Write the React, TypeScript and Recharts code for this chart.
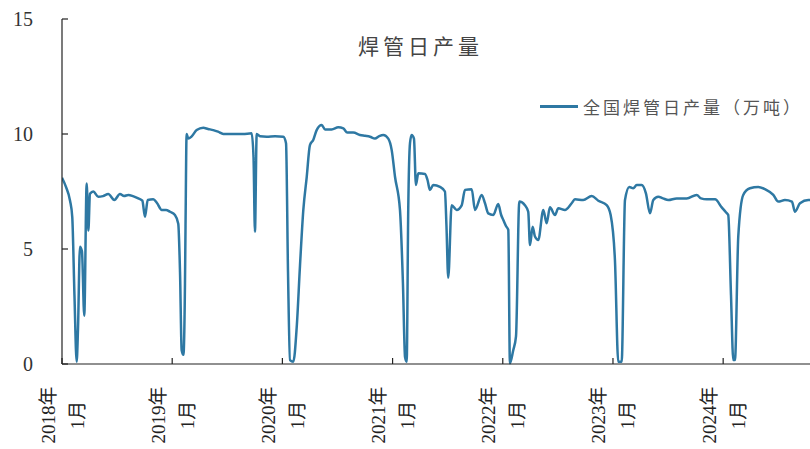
import { LineChart, Line, XAxis, YAxis } from "recharts";

// decimal years (weekly-ish samples)
const dates = [
  2018.0, 2018.036, 2018.073, 2018.093, 2018.113, 2018.133, 2018.145, 2018.163, 2018.181, 2018.202,
  2018.224, 2018.239, 2018.254, 2018.284, 2018.329, 2018.372, 2018.42, 2018.475, 2018.526, 2018.563,
  2018.602, 2018.644, 2018.692, 2018.729, 2018.753, 2018.778, 2018.828, 2018.862, 2018.905, 2018.944,
  2018.98, 2019.025, 2019.055, 2019.071, 2019.086, 2019.102, 2019.116, 2019.121, 2019.131, 2019.146,
  2019.177, 2019.222, 2019.282, 2019.325, 2019.373, 2019.416, 2019.464, 2019.554, 2019.642, 2019.721,
  2019.738, 2019.751, 2019.767, 2019.797, 2019.858, 2019.933, 2020.008, 2020.033, 2020.051, 2020.069,
  2020.099, 2020.13, 2020.16, 2020.19, 2020.221, 2020.25, 2020.28, 2020.311, 2020.357, 2020.387,
  2020.447, 2020.507, 2020.553, 2020.589, 2020.643, 2020.704, 2020.75, 2020.795, 2020.84, 2020.879,
  2020.916, 2020.961, 2020.992, 2021.022, 2021.067, 2021.094, 2021.113, 2021.128, 2021.142, 2021.158,
  2021.173, 2021.194, 2021.212, 2021.233, 2021.294, 2021.317, 2021.339, 2021.369, 2021.43, 2021.475,
  2021.489, 2021.505, 2021.536, 2021.581, 2021.627, 2021.657, 2021.718, 2021.748, 2021.809, 2021.838,
  2021.868, 2021.914, 2021.959, 2021.984, 2022.005, 2022.029, 2022.05, 2022.065, 2022.095, 2022.12,
  2022.15, 2022.201, 2022.231, 2022.247, 2022.271, 2022.292, 2022.322, 2022.368, 2022.398, 2022.428,
  2022.474, 2022.504, 2022.564, 2022.625, 2022.655, 2022.73, 2022.807, 2022.867, 2022.943, 2022.979,
  2023.018, 2023.048, 2023.079, 2023.109, 2023.148, 2023.184, 2023.215, 2023.26, 2023.299, 2023.336,
  2023.366, 2023.411, 2023.454, 2023.502, 2023.578, 2023.669, 2023.76, 2023.799, 2023.851, 2023.926,
  2023.987, 2024.025, 2024.046, 2024.071, 2024.092, 2024.107, 2024.137, 2024.182, 2024.243, 2024.319,
  2024.379, 2024.455, 2024.5, 2024.561, 2024.624, 2024.652, 2024.697, 2024.773, 2024.788,
];

// 全国焊管日产量（万吨）
const output = [
  8.1, 7.7, 7.1, 6.4, 3.0, 0.1, 1.5, 5.1, 4.9, 2.1,
  7.85, 5.8, 7.4, 7.5, 7.27, 7.3, 7.39, 7.13, 7.39, 7.3,
  7.35, 7.3, 7.2, 7.1, 6.4, 7.13, 7.16, 7.0, 6.7, 6.7,
  6.62, 6.48, 6.1, 4.0, 0.6, 0.4, 3.5, 6.0, 10.0, 9.8,
  9.9, 10.17, 10.27, 10.22, 10.17, 10.1, 10.0, 10.0, 10.0, 10.03,
  9.0, 5.75, 10.0, 9.9, 9.88, 9.9, 9.88, 9.6, 4.0, 0.17,
  0.1, 1.6, 4.3, 6.7, 8.14, 9.52, 9.74, 10.17, 10.39, 10.2,
  10.2, 10.29, 10.24, 10.06, 10.06, 9.96, 9.92, 9.88, 9.8, 9.91,
  9.96, 9.8, 9.3, 8.14, 6.7, 3.5, 0.3, 0.1, 6.7, 9.6,
  9.96, 9.8, 7.78, 8.29, 8.26, 8.0, 7.57, 7.78, 7.7, 7.5,
  6.0, 3.75, 6.9, 6.7, 6.9, 7.57, 7.6, 6.7, 7.35, 7.0,
  6.55, 6.48, 6.96, 6.5, 6.26, 6.0, 5.83, 0.03, 0.6, 1.2,
  7.06, 6.9, 6.62, 5.17, 5.97, 5.54, 5.39, 6.7, 6.12, 6.81,
  6.48, 6.77, 6.7, 6.99, 7.16, 7.13, 7.3, 7.1, 6.91, 6.48,
  4.5, 0.1, 0.1, 7.13, 7.7, 7.64, 7.78, 7.78, 7.42, 6.55,
  7.13, 7.27, 7.2, 7.13, 7.2, 7.2, 7.35, 7.2, 7.16, 7.16,
  6.81, 6.6, 6.48, 3.0, 0.17, 0.17, 5.54, 7.35, 7.64, 7.7,
  7.6, 7.35, 7.06, 7.13, 7.06, 6.62, 6.99, 7.13, 7.13,
];

const yearTicks = [2018, 2019, 2020, 2021, 2022, 2023, 2024];
const valueTicks = [0, 5, 10, 15];

const rows = dates.map((t, i) => ({ t, v: output[i] }));

const LINE = "#2E78A3";
const SERIF = "'Liberation Serif', 'Noto Sans CJK SC', serif";
const CJK = "'Noto Sans CJK SC', sans-serif";

function YearTick({ x, y, payload }: any) {
  return (
    <g>
      <line x1={x} y1={y} x2={x} y2={y - 6} stroke="#222" strokeWidth={1.2} />
      <g transform={`translate(${x},${y + 51}) rotate(-90)`} fill="#222" fontSize={19} fontFamily={SERIF}>
        <text x={0} y={-14} textAnchor="middle" dominantBaseline="central">{payload.value}年</text>
        <text x={0} y={15} textAnchor="middle" dominantBaseline="central">1月</text>
      </g>
    </g>
  );
}

function ValueTick({ x, y, payload }: any) {
  return (
    <g>
      <line x1={x} y1={y} x2={x + 6} y2={y} stroke="#222" strokeWidth={1.2} />
      <text x={x - 29} y={y} textAnchor="end" dominantBaseline="central" fill="#333" fontSize={20} fontFamily={SERIF}>
        {payload.value}
      </text>
    </g>
  );
}

export default function App() {
  return (
    <div style={{ position: "absolute", left: 0, top: 0, width: 810, height: 449, background: "#fff" }}>
      <LineChart width={810} height={449} data={rows} margin={{ top: 19, right: 0, bottom: 0, left: 0 }}>
        <XAxis
          dataKey="t"
          type="number"
          domain={[2018, 2024.788]}
          ticks={yearTicks}
          allowDataOverflow
          height={85}
          tickSize={0}
          tickMargin={0}
          tick={<YearTick />}
          axisLine={{ stroke: "#222", strokeWidth: 1.2 }}
        />
        <YAxis
          type="number"
          domain={[0, 15]}
          ticks={valueTicks}
          width={62}
          tickSize={0}
          tickMargin={0}
          tick={<ValueTick />}
          axisLine={{ stroke: "#222", strokeWidth: 1.2 }}
        />
        <Line type="monotone" dataKey="v" stroke={LINE} strokeWidth={2.5} dot={false} isAnimationActive={false} />
      </LineChart>
      <div
        style={{
          position: "absolute", left: 358, top: 30, fontFamily: CJK, fontSize: 21,
          letterSpacing: 4, color: "#444", whiteSpace: "nowrap",
        }}
      >
        焊管日产量
      </div>
      <div style={{ position: "absolute", left: 540, top: 94, display: "flex", alignItems: "center", whiteSpace: "nowrap" }}>
        <span style={{ display: "inline-block", width: 38, height: 3, background: LINE, marginRight: 5 }} />
        <span style={{ fontFamily: CJK, fontSize: 17, letterSpacing: 3, color: "#555" }}>全国焊管日产量（万吨）</span>
      </div>
    </div>
  );
}
